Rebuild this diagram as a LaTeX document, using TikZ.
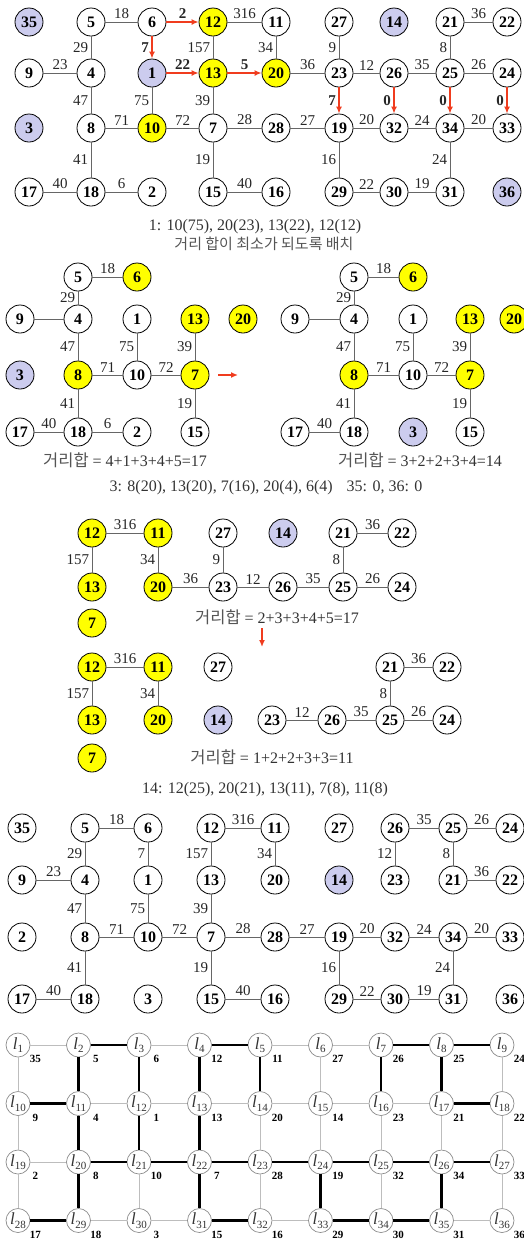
\documentclass[tikz,border=0pt]{standalone}
\usepackage{fontspec}
\setmainfont{Liberation Serif}
\newfontfamily\kor{Noto Sans CJK KR}
\usetikzlibrary{arrows.meta}
\definecolor{nodeyellow}{HTML}{FFFF00}
\definecolor{nodeblue}{HTML}{CCCCEE}
\definecolor{edgegray}{HTML}{666666}
\definecolor{movered}{HTML}{F03C1E}
\definecolor{gridgray}{HTML}{BDBDBD}
\definecolor{ringgray}{HTML}{8C8C8C}
\definecolor{textgray}{HTML}{333333}
\definecolor{korgray}{HTML}{555555}

\newcommand\lname[1]{\textit{l}\raisebox{-0.45ex}{\fontsize{11}{11}\selectfont #1}}
\newcommand\kortext[1]{{\color{korgray}\kor\fontsize{16.5}{16.5}\selectfont #1}}

\begin{document}
\begin{tikzpicture}[x=1pt, y=-1pt,
      vw/.style={circle, draw, line width=0.8pt, fill=white, minimum size=28pt,
        inner sep=0pt, font=\fontsize{16}{16}\selectfont\bfseries},
      vy/.style={vw, fill=nodeyellow},
      vb/.style={vw, fill=nodeblue},
      link/.style={draw=edgegray, line width=0.9pt},
      wt/.style={font=\fontsize{15}{15}\selectfont, text=black!85, inner sep=2.5pt},
      wtb/.style={wt, font=\fontsize{15}{15}\selectfont\bfseries},
      redmove/.style={->, draw=movered, line width=1.4pt},
      capt/.style={font=\fontsize{16}{16}\selectfont, text=textgray},
      gv/.style={circle, draw=ringgray, line width=0.7pt, fill=white, minimum size=24pt,
        inner sep=0pt, text=black!80, font=\fontsize{17}{17}\selectfont},
      gnum/.style={font=\fontsize{11}{11}\selectfont\bfseries, anchor=center,
        inner sep=0pt, xshift=8pt, yshift=-6pt},
      gline/.style={draw=gridgray, line width=0.8pt},
      gbold/.style={draw=black, line width=2.5pt},
      >={Latex[length=7pt, width=6pt]}
    ]
      \useasboundingbox (0,0) rectangle (524,1240);

      % first layout, moves in red
      \foreach \n/\x/\y/\s in {
        35/29/22/vb, 5/91/22/vw, 6/152/22/vw, 12/213/22/vy, 11/276/22/vw,
        27/339/22/vw, 14/394/22/vb, 21/450/22/vw, 22/507/22/vw,
        9/29/73/vw, 4/91/73/vw, 1/152/73/vb, 13/213/73/vy, 20/276/73/vy,
        23/339/73/vw, 26/394/73/vw, 25/450/73/vw, 24/507/73/vw,
        3/29/128/vb, 8/91/128/vw, 10/152/128/vy, 7/213/128/vw, 28/276/128/vw,
        19/339/128/vw, 32/394/128/vw, 34/450/128/vw, 33/507/128/vw,
        17/29/192/vw, 18/91/192/vw, 2/152/192/vw, 15/213/192/vw, 16/276/192/vw,
        29/339/192/vw, 30/394/192/vw, 31/450/192/vw, 36/507/192/vb}
        \node[\s] (t\n) at (\x,\y) {\n};
      \foreach \ea/\eb/\ew in {5/6/18, 12/11/316, 21/22/36, 9/4/23, 20/23/36,
        23/26/12, 26/25/35, 25/24/26, 8/10/71, 10/7/72, 7/28/28, 28/19/27,
        19/32/20, 32/34/24, 34/33/20, 17/18/40, 18/2/6, 15/16/40, 29/30/22, 30/31/19}
        \draw[link] (t\ea) -- node[wt, above] {\ew} (t\eb);
      \foreach \ea/\eb/\ew in {5/4/29, 12/13/157, 11/20/34, 27/23/9, 21/25/8,
        4/8/47, 1/10/75, 13/7/39, 8/18/41, 7/15/19, 19/29/16, 34/31/24}
        \draw[link] (t\ea) -- node[wt, left] {\ew} (t\eb);
      \foreach \ea/\eb/\ew/\ep in {6/12/2/above, 1/13/22/above, 13/20/5/above,
        6/1/7/left, 23/19/7/left, 26/32/0/left, 25/34/0/left, 24/33/0/left}
        \draw[redmove] (t\ea) -- node[wtb, \ep] {\ew} (t\eb);
      \node[capt] (cap1) at (255,227) {1: 10(75), 20(23), 13(22), 12(12)};
      \node[capt] (cap1k) at (264,244)
        {\kortext{\fontsize{15}{15}\selectfont 거리 합이 최소가 되도록 배치}};

      % left group, before and after
      \foreach \n/\x/\y/\s in {5/78/277/vw, 6/137/277/vy, 9/20/319/vw,
        4/78/319/vw, 1/137/319/vw, 13/195/319/vy, 20/243/319/vy, 3/20/375/vb,
        8/78/375/vy, 10/137/375/vw, 7/195/375/vy, 17/20/432/vw, 18/78/432/vw,
        2/137/432/vw, 15/195/432/vw}
        \node[\s] (p\n) at (\x,\y) {\n};
      \foreach \n/\x/\y/\s in {5/354/277/vw, 6/413/277/vy, 9/295/319/vw,
        4/354/319/vw, 1/413/319/vw, 13/470/319/vy, 20/514/319/vy,
        8/354/375/vy, 10/413/375/vw, 7/470/375/vy, 17/295/432/vw,
        18/354/432/vw, 3/413/432/vb, 15/470/432/vw}
        \node[\s] (q\n) at (\x,\y) {\n};
      \foreach \g in {p,q} {
        \draw[link] (\g9) -- (\g4);
        \foreach \ea/\eb/\ew in {5/6/18, 8/10/71, 10/7/72, 17/18/40}
          \draw[link] (\g\ea) -- node[wt, above] {\ew} (\g\eb);
        \foreach \ea/\eb/\ew in {5/4/29, 4/8/47, 1/10/75, 13/7/39, 8/18/41, 7/15/19}
          \draw[link] (\g\ea) -- node[wt, left] {\ew} (\g\eb);
      }
      \draw[link] (p18) -- node[wt, above] {6} (p2);
      \coordinate (pgo) at (218,375);
      \coordinate (qgo) at (238,375);
      \draw[redmove] (pgo) -- (qgo);
      \node[capt] (sum2a) at (125,460) {\kortext{거리합} = 4+1+3+4+5=17};
      \node[capt] (sum2b) at (420,460) {\kortext{거리합} = 3+2+2+3+4=14};
      \node[capt] (cap3) at (266,488) {3: 8(20), 13(20), 7(16), 20(4), 6(4)\hspace{14pt}35: 0, 36: 0};

      % right group, before and after
      \foreach \n/\x/\y/\s in {12/92/533/vy, 11/158/533/vy, 27/223/533/vw,
        14/283/533/vb, 21/343/533/vw, 22/402/533/vw, 13/92/587/vy, 20/158/587/vy,
        23/223/587/vw, 26/283/587/vw, 25/343/587/vw, 24/402/587/vw, 7/92/623/vy}
        \node[\s] (u\n) at (\x,\y) {\n};
      \foreach \n/\x/\y/\s in {12/92/667/vy, 11/158/667/vy, 27/218/667/vw,
        21/390/667/vw, 22/447/667/vw, 13/92/720/vy, 20/158/720/vy, 14/218/720/vb,
        23/272/720/vw, 26/332/720/vw, 25/390/720/vw, 24/447/720/vw, 7/92/758/vy}
        \node[\s] (w\n) at (\x,\y) {\n};
      \foreach \g in {u,w} {
        \foreach \ea/\eb/\ew in {12/11/316, 21/22/36, 23/26/12, 26/25/35, 25/24/26}
          \draw[link] (\g\ea) -- node[wt, above] {\ew} (\g\eb);
        \foreach \ea/\eb/\ew in {12/13/157, 11/20/34, 21/25/8}
          \draw[link] (\g\ea) -- node[wt, left] {\ew} (\g\eb);
      }
      \draw[link] (u20) -- node[wt, above] {36} (u23);
      \draw[link] (u27) -- node[wt, left] {9} (u23);
      \node[capt] (sum3a) at (277,617) {\kortext{거리합} = 2+3+3+4+5=17};
      \coordinate (ugo) at (262,628);
      \coordinate (wgo) at (262,647);
      \draw[redmove] (ugo) -- (wgo);
      \node[capt] (sum3b) at (272,757) {\kortext{거리합} = 1+2+2+3+3=11};
      \node[capt] (cap14) at (265,790) {14: 12(25), 20(21), 13(11), 7(8), 11(8)};

      % final layout
      \foreach \n/\x/\y in {
        35/22/828, 5/85/828, 6/148/828, 12/211/828, 11/275/828, 27/339/828,
        26/395/828, 25/453/828, 24/510/828,
        9/22/880, 4/85/880, 1/148/880, 13/211/880, 20/275/880,
        23/395/880, 21/453/880, 22/510/880,
        2/22/937, 8/85/937, 10/148/937, 7/211/937, 28/275/937, 19/339/937,
        32/395/937, 34/453/937, 33/510/937,
        17/22/999, 18/85/999, 3/148/999, 15/211/999, 16/275/999, 29/339/999,
        30/395/999, 31/453/999, 36/510/999}
        \node[vw] (f\n) at (\x,\y) {\n};
      \node[vb] (f14) at (339,880) {14};
      \foreach \ea/\eb/\ew in {5/6/18, 12/11/316, 26/25/35, 25/24/26, 9/4/23,
        21/22/36, 8/10/71, 10/7/72, 7/28/28, 28/19/27, 19/32/20, 32/34/24,
        34/33/20, 17/18/40, 15/16/40, 29/30/22, 30/31/19}
        \draw[link] (f\ea) -- node[wt, above] {\ew} (f\eb);
      \foreach \ea/\eb/\ew in {5/4/29, 6/1/7, 12/13/157, 11/20/34, 26/23/12,
        25/21/8, 4/8/47, 1/10/75, 13/7/39, 8/18/41, 7/15/19, 19/29/16, 34/31/24}
        \draw[link] (f\ea) -- node[wt, left] {\ew} (f\eb);

      % grid of slots
      \foreach \m [count=\k] in {35,5,6,12,11,27,26,25,24, 9,4,1,13,20,14,23,21,22,
        2,8,10,7,28,19,32,34,33, 17,18,3,15,16,29,30,31,36} {
        \pgfmathtruncatemacro\cc{mod(\k-1,9)}
        \pgfmathtruncatemacro\rr{(\k-1)/9}
        \node[gv, label={[gnum]-40:\m}] (g\k) at ({18+60.5*\cc},{1045+58.5*\rr}) {\lname{\k}};
      }
      \foreach \rr in {0,...,3}
        \foreach \cc in {1,...,8} {
          \pgfmathtruncatemacro\ga{9*\rr+\cc}
          \pgfmathtruncatemacro\gb{\ga+1}
          \draw[gline] (g\ga) -- (g\gb);
        }
      \foreach \k in {1,...,27} {
        \pgfmathtruncatemacro\gb{\k+9}
        \draw[gline] (g\k) -- (g\gb);
      }
      \foreach \ga/\gb in {2/3, 4/5, 7/8, 8/9, 2/11, 3/12, 4/13, 5/14, 7/16,
        8/17, 10/11, 17/18, 11/20, 12/21, 13/22, 20/21, 21/22, 22/23, 23/24,
        24/25, 25/26, 26/27, 20/29, 22/31, 24/33, 26/35, 28/29, 31/32, 33/34, 34/35}
        \draw[gbold] (g\ga) -- (g\gb);
    \end{tikzpicture}
\end{document}
